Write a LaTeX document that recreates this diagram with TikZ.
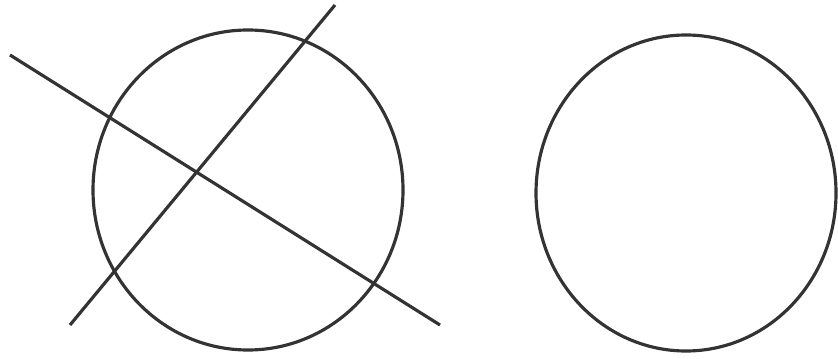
\documentclass[tikz,border=0pt]{standalone}
\begin{document}
\begin{tikzpicture}[line width=0.9pt, draw=black!80]
    \useasboundingbox (0,0) rectangle (8.38,3.58);
    % Left circle
    \draw[black!80] (2.48,1.68) ellipse [x radius=1.55, y radius=1.6];
    % Crossing lines
    \draw[black!80] (0.10,3.03) -- (4.40,0.33);
    \draw[black!80] (0.70,0.33) -- (3.35,3.53);
    % Right circle
    \draw[black!80] (6.86,1.65) ellipse [x radius=1.50, y radius=1.58];
\end{tikzpicture}
\end{document}
